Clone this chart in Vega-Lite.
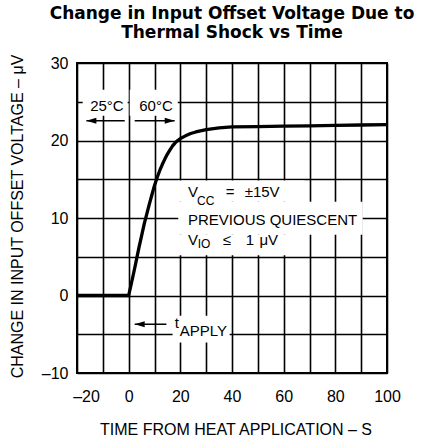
{
  "$schema": "https://vega.github.io/schema/vega-lite/v6.json",
  "autosize": {"type": "none"},
  "padding": {"left": 77, "top": 63, "right": 41, "bottom": 67},
  "width": 310,
  "height": 310,
  "background": "#ffffff",
  "title": {
    "text": ["Change in Input Offset Voltage Due to", "Thermal Shock vs Time"],
    "anchor": "middle",
    "font": "DejaVu Sans",
    "fontWeight": "bold",
    "fontSize": 17,
    "lineHeight": 19,
    "color": "#000000",
    "offset": 12
  },
  "config": {
    "view": {"stroke": "#000000", "strokeWidth": 2},
    "axis": {
      "grid": true,
      "gridColor": "#000000",
      "gridOpacity": 1,
      "gridWidth": 1.6,
      "ticks": false,
      "tickSize": 0,
      "domain": false,
      "labelFont": "Liberation Sans",
      "labelFontSize": 16,
      "labelColor": "#000000",
      "labelFlush": false,
      "titleFont": "Liberation Sans",
      "titleFontSize": 16,
      "titleFontWeight": "normal",
      "titleColor": "#000000"
    }
  },
  "datasets": {
    "curve": [
      {"x": -20, "y": 0}, {"x": 0, "y": 0}, {"x": 1, "y": 1.5}, {"x": 2, "y": 3.0},
      {"x": 3, "y": 4.6}, {"x": 4, "y": 6.2}, {"x": 5, "y": 7.7}, {"x": 6, "y": 9.2},
      {"x": 7, "y": 10.5}, {"x": 8, "y": 11.8}, {"x": 9, "y": 13.0}, {"x": 10, "y": 14.2},
      {"x": 11, "y": 15.2}, {"x": 12, "y": 16.1}, {"x": 13, "y": 16.9}, {"x": 14, "y": 17.6},
      {"x": 15, "y": 18.25}, {"x": 16, "y": 18.8}, {"x": 17, "y": 19.3}, {"x": 18, "y": 19.7},
      {"x": 19, "y": 20.0}, {"x": 20, "y": 20.25}, {"x": 22, "y": 20.6}, {"x": 24, "y": 20.9},
      {"x": 26, "y": 21.1}, {"x": 30, "y": 21.4}, {"x": 35, "y": 21.62}, {"x": 40, "y": 21.75},
      {"x": 50, "y": 21.8}, {"x": 60, "y": 21.85}, {"x": 70, "y": 21.9}, {"x": 80, "y": 21.95},
      {"x": 90, "y": 22.0}, {"x": 100, "y": 22.05}
    ],
    "masks": [
      {"x": -17.8, "x2": -0.4, "y": 26.55, "y2": 23.2},
      {"x": 0.4, "x2": 19.0, "y": 26.55, "y2": 23.2},
      {"x": 19.2, "x2": 68.0, "y": 14.85, "y2": 12.1},
      {"x": 19.2, "x2": 90.6, "y": 12.1, "y2": 7.85},
      {"x": 19.2, "x2": 66.2, "y": 7.85, "y2": 5.2},
      {"x": 17.0, "x2": 39.1, "y": -2.6, "y2": -6.07}
    ],
    "arrows": [
      {"x": -1.53, "x2": -16.36, "y": 22.55, "dir": "left"},
      {"x": 2.34, "x2": 17.82, "y": 22.55, "dir": "right"},
      {"x": 14.6, "x2": 2.34, "y": -3.7, "dir": "left"}
    ],
    "labels": [
      {"x": -14.9, "y": 23.85, "text": "25°C"},
      {"x": 4.1, "y": 23.85, "text": "60°C"},
      {"x": 22.97, "y": 12.71, "text": "V"},
      {"x": 37.56, "y": 12.71, "text": "="},
      {"x": 44.9, "y": 12.71, "text": "±15V"},
      {"x": 22.97, "y": 9.1, "text": "PREVIOUS QUIESCENT"},
      {"x": 22.97, "y": 6.56, "text": "V"},
      {"x": 36.4, "y": 6.56, "text": "≤"},
      {"x": 45.3, "y": 6.56, "text": "1"},
      {"x": 50.6, "y": 6.56, "text": "μV"},
      {"x": 17.8, "y": -4.15, "text": "t"},
      {"x": 19.76, "y": -5.28, "text": "APPLY"}
    ],
    "subs": [
      {"x": 26.45, "y": 11.72, "text": "CC"},
      {"x": 26.7, "y": 6.1, "text": "IO"}
    ]
  },
  "encoding": {
    "x": {
      "field": "x",
      "type": "quantitative",
      "scale": {"domain": [-20, 100], "nice": false, "zero": false},
      "axis": {
        "values": [-20, -10, 0, 10, 20, 30, 40, 50, 60, 70, 80, 90, 100],
        "labelExpr": "datum.value % 20 === 0 ? (datum.value < 0 ? '–' + abs(datum.value) : '' + datum.value) : ''",
        "labelPadding": 15.5,
        "labelOffset": {"condition": {"test": "datum.value === -20", "value": 9}, "value": 0},
        "title": "TIME FROM HEAT APPLICATION – S",
        "titleX": 158.5,
        "titleY": 61.7,
        "titleAlign": "center",
        "titleBaseline": "alphabetic"
      }
    },
    "y": {
      "field": "y",
      "type": "quantitative",
      "scale": {"domain": [-10, 30], "nice": false, "zero": false},
      "axis": {
        "values": [-10, -5, 0, 5, 10, 15, 20, 25, 30],
        "labelExpr": "datum.value % 10 === 0 ? (datum.value < 0 ? '–' + abs(datum.value) : '' + datum.value) : ''",
        "labelPadding": 9,
        "title": "CHANGE IN INPUT OFFSET VOLTAGE – μV",
        "titleAngle": 270,
        "titleX": -59.5,
        "titleY": 153,
        "titleAlign": "center",
        "titleBaseline": "middle"
      }
    }
  },
  "layer": [
    {
      "data": {"name": "masks"},
      "mark": {"type": "rect", "fill": "#ffffff", "strokeWidth": 0},
      "encoding": {"x2": {"field": "x2"}, "y2": {"field": "y2"}}
    },
    {
      "data": {"name": "curve"},
      "mark": {"type": "line", "color": "#000000", "strokeWidth": 3.3, "strokeJoin": "round"}
    },
    {
      "data": {"name": "arrows"},
      "mark": {"type": "rule", "color": "#000000", "strokeWidth": 1.4},
      "encoding": {"x2": {"field": "x2"}}
    },
    {
      "data": {"name": "arrows"},
      "mark": {"type": "point", "filled": true, "color": "#000000", "opacity": 1, "size": 100, "strokeWidth": 0},
      "encoding": {
        "x": {"field": "x2", "type": "quantitative"},
        "shape": {
          "field": "dir",
          "type": "nominal",
          "scale": {"domain": ["left", "right"], "range": ["M0,0L2,-0.6L2,0.6Z", "M0,0L-2,-0.6L-2,0.6Z"]},
          "legend": null
        }
      }
    },
    {
      "data": {"name": "labels"},
      "mark": {"type": "text", "align": "left", "baseline": "alphabetic", "font": "Liberation Sans", "fontSize": 15, "color": "#000000"},
      "encoding": {"text": {"field": "text"}}
    },
    {
      "data": {"name": "subs"},
      "mark": {"type": "text", "align": "left", "baseline": "alphabetic", "font": "Liberation Sans", "fontSize": 12, "color": "#000000"},
      "encoding": {"text": {"field": "text"}}
    }
  ]
}
